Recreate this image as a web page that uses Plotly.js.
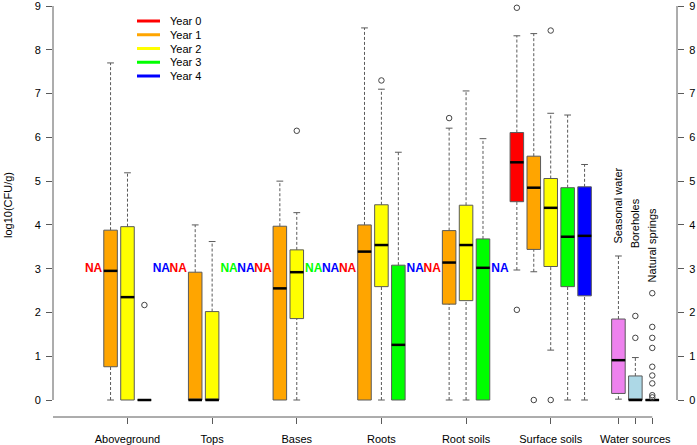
<!DOCTYPE html>
<html>
<head>
<meta charset="utf-8">
<script src="https://cdn.plot.ly/plotly-3.0.1.min.js"></script>
<style>html,body{margin:0;padding:0;background:#fff;}#chart{width:697px;height:445px;}</style>
</head>
<body>
<div id="chart"></div>
<script>
// ---------- DATA ----------
const groups = ['Aboveground','Tops','Bases','Roots','Root soils','Surface soils','Water sources'];
const groupTickSlot = [3, 8, 13, 18, 23, 28, 33];
const waterTickSlots = [32, 33, 34];
const years = ['Year 0','Year 1','Year 2','Year 3','Year 4'];
const yearColors = ['#FF0000','#FFA500','#FFFF00','#00FF00','#0000FF'];
const waterNames = ['Seasonal water','Boreholes','Natural springs'];
const waterColors = ['#EE82EE','#ADD8E6','#90EE90'];
const waterLabelBase = [3.56, 3.45, 2.67];

// box slots (positions along the x axis) and statistics
const boxSlot = [2,3,4, 7,8, 12,13, 17,18,19, 22,23,24, 26,27,28,29,30, 32,33,34];
const lowW   = [0,0,0, 0,0, 0,0, 0,0,0, 0,0,0, 2.97,2.93,1.14,0,0, 0.02,0,0];
const q1     = [0.76,0,0, 0,0, 0,1.86, 0,2.59,0, 2.19,2.27,0, 4.53,3.44,3.05,2.59,2.38, 0.15,0,0];
const med    = [2.95,2.35,0, 0,0, 2.55,2.92, 3.39,3.54,1.26, 3.14,3.54,3.02, 5.43,4.85,4.39,3.73,3.75, 0.91,0,0];
const q3     = [3.88,3.96,0, 2.92,2.02, 3.97,3.43, 4.00,4.46,3.08, 3.87,4.45,3.68, 6.11,5.57,5.06,4.85,4.87, 1.85,0.55,0];
const hiW    = [7.70,5.19,0, 4.00,3.62, 5.00,4.28, 8.50,7.10,5.66, 6.21,7.06,5.97, 8.32,8.37,6.55,6.51,5.38, 3.29,0.97,0];

// outliers
const outSlot = [4, 13, 18, 22, 26,26,26, 27, 28,28, 33,33, 34,34,34,34,34,34,34,34,34];
const outVal  = [2.17, 6.15, 7.30, 6.44, 9.06,8.96,2.06, 0, 8.44,0, 1.92,1.42, 2.44,1.67,1.42,1.19,0.76,0.56,0.38,0.11,0.06];

// missing year/group combinations
const naSlot = [1,5, 6,9,10, 11,14,15, 16,20, 21,25];
const naValue = 3;

// ---------- GEOMETRY (layout) ----------
const xRange = [-1.40, 35.46];
const yRange = [-0.388, 9.0005];
const boxW = 0.8, capW = 0.4;
const axisCol = '#5a5a5a';
const FONT = 'Liberation Sans, Arial, sans-serif';

function slotColor(s){
  if (s >= 32) return waterColors[s-32];
  return yearColors[(s-1)%5];
}

const traces = [];
// boxes
boxSlot.forEach((s,i)=>{
  traces.push({
    type:'box', x:[s], q1:[q1[i]], median:[med[i]], q3:[q3[i]],
    lowerfence:[q1[i]], upperfence:[q3[i]], width:boxW, whiskerwidth:0,
    fillcolor: slotColor(s), line:{color:axisCol, width:1},
    boxpoints:false, showlegend:false, hoverinfo:'skip'
  });
});
// whiskers (dashed) and caps
const wx=[], wy=[], cx=[], cy=[], mx=[], my=[];
boxSlot.forEach((s,i)=>{
  if (hiW[i] > q3[i]) { wx.push(s,s,null); wy.push(q3[i],hiW[i],null);
    cx.push(s-capW/2,s+capW/2,null); cy.push(hiW[i],hiW[i],null); }
  if (lowW[i] < q1[i]) { wx.push(s,s,null); wy.push(lowW[i],q1[i],null);
    cx.push(s-capW/2,s+capW/2,null); cy.push(lowW[i],lowW[i],null); }
  mx.push(s-boxW/2, s+boxW/2, null); my.push(med[i], med[i], null);
});
traces.push({type:'scatter', mode:'lines', x:wx, y:wy, line:{color:axisCol, width:1, dash:'3px,2px'}, showlegend:false, hoverinfo:'skip'});
traces.push({type:'scatter', mode:'lines', x:cx, y:cy, line:{color:axisCol, width:1}, showlegend:false, hoverinfo:'skip'});
traces.push({type:'scatter', mode:'lines', x:mx, y:my, line:{color:'#000', width:2.5}, showlegend:false, hoverinfo:'skip'});
// outliers
traces.push({type:'scatter', mode:'markers', x:outSlot, y:outVal, cliponaxis:false,
  marker:{symbol:'circle-open', size:5.5, color:'#444', line:{width:1}}, showlegend:false, hoverinfo:'skip'});
// NA labels
traces.push({type:'scatter', mode:'text', x:naSlot, y:naSlot.map(()=>naValue), text:naSlot.map(()=>'NA'),
  textfont:{family:FONT, size:12, weight:'bold', color:naSlot.map(s=>yearColors[(s-1)%5])},
  textposition:'middle center', cliponaxis:false, showlegend:false, hoverinfo:'skip'});
// dummy trace for right axis
traces.push({type:'scatter', mode:'markers', x:[xRange[0]], y:[0], yaxis:'y2', marker:{opacity:0}, showlegend:false, hoverinfo:'skip'});

// ---------- LAYOUT ----------
const tickVals = groupTickSlot.slice(0,6).concat(waterTickSlots);
const tickText = groups.slice(0,6).concat(waterTickSlots.map(s=> s===groupTickSlot[6] ? groups[6] : ''));

const pxL=53, pxR=677, pxT=6, pxB=417;
const pw = pxR-pxL, ph = pxB-pxT;
const shapes = [
  {type:'line', xref:'paper', yref:'y', x0:0, x1:0, y0:0, y1:9, line:{color:axisCol, width:1}},
  {type:'line', xref:'paper', yref:'y', x0:1, x1:1, y0:0, y1:9, line:{color:axisCol, width:1}},
  {type:'line', xref:'x', yref:'paper', x0:xRange[0], x1:waterTickSlots[2], y0:0, y1:0, line:{color:axisCol, width:1}}
];
const annotations = [
  {text:'log10(CFU/g)', xref:'paper', yref:'paper', x:(8-pxL)/pw, y:(pxB-205)/ph, textangle:-90,
   showarrow:false, font:{family:FONT, size:11, color:'#000'}, xanchor:'center', yanchor:'middle'}
];
// legend (manual, R style)
years.forEach((yname,i)=>{
  const py = 21 + 13.75*i;
  shapes.push({type:'line', xref:'paper', yref:'paper', x0:(137-pxL)/pw, x1:(160-pxL)/pw,
    y0:(pxB-py)/ph, y1:(pxB-py)/ph, line:{color:yearColors[i], width:3}});
  annotations.push({text:yname, xref:'paper', yref:'paper', x:(168-pxL)/pw, y:(pxB-py)/ph,
    xanchor:'left', yanchor:'middle', showarrow:false, font:{family:FONT, size:11, color:'#000'}});
});
// water source labels
waterNames.forEach((n,i)=>{
  annotations.push({text:n, xref:'x', yref:'y', x:waterTickSlots[i], y:waterLabelBase[i], textangle:-90,
    xanchor:'center', yanchor:'bottom', showarrow:false, borderpad:0, font:{family:FONT, size:11, color:'#000'}});
});

const yTicks = [0,1,2,3,4,5,6,7,8,9];
const layout = {
  width:697, height:445,
  margin:{l:pxL, r:697-pxR, t:pxT, b:445-pxB, pad:0},
  paper_bgcolor:'#fff', plot_bgcolor:'#fff',
  font:{family:FONT, size:11, color:'#000'},
  boxmode:'overlay',
  showlegend:false,
  xaxis:{range:xRange, tickvals:tickVals, ticktext:tickText, ticks:'outside', ticklen:6, tickcolor:axisCol,
    tickwidth:1, showline:false, showgrid:false, zeroline:false, ticklabelstandoff:6, ticklabeloverflow:'allow',
    tickfont:{family:FONT, size:11, color:'#000'}, fixedrange:true},
  yaxis:{range:yRange, tickvals:yTicks, ticks:'outside', ticklen:6, tickcolor:axisCol, tickwidth:1, ticklabeloverflow:'allow',
    showline:false, showgrid:false, zeroline:false, tickfont:{family:FONT, size:11, color:'#000'}, ticklabelstandoff:3},
  yaxis2:{range:yRange, overlaying:'y', side:'right', tickvals:yTicks, ticks:'outside', ticklen:6, tickcolor:axisCol,
    tickwidth:1, ticklabeloverflow:'allow', showline:false, showgrid:false, zeroline:false, tickfont:{family:FONT, size:11, color:'#000'}, ticklabelstandoff:3},
  shapes:shapes,
  annotations:annotations
};
Plotly.newPlot('chart', traces, layout, {displayModeBar:false, staticPlot:true});
</script>
</body>
</html>
